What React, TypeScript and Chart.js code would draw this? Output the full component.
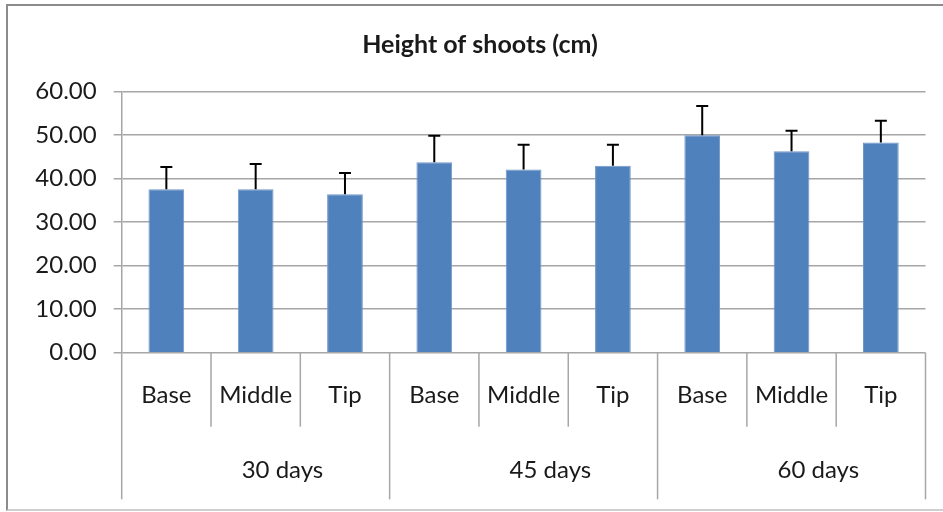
import React, { useEffect, useRef } from "react";
import { Chart, registerables } from "chart.js";

Chart.register(...registerables);

const TITLE = "Height of shoots (cm)";
const positions = ["Base", "Middle", "Tip", "Base", "Middle", "Tip", "Base", "Middle", "Tip"];
const groups = ["30 days", "45 days", "60 days"];
const heights = [37.6, 37.6, 36.4, 43.8, 42.1, 43.0, 50.0, 46.3, 48.3];
const errors = [5.1, 5.8, 4.9, 6.1, 5.7, 4.8, 6.7, 4.7, 5.0];
const yMin = 0;
const yMax = 60;
const yStep = 10;

const FONT = "Lato, 'DejaVu Sans', sans-serif";
const TEXT = "#1a1a1a";
const LINE = "#a6a6a6";

export default function App() {
  const ref = useRef<HTMLCanvasElement>(null);

  useEffect(() => {
    if (!ref.current) return;
    const decor = {
      id: "decor",
      afterDatasetsDraw(chart: any) {
        const ctx = chart.ctx;
        const y = chart.scales.y;
        const meta = chart.getDatasetMeta(0);
        ctx.save();
        ctx.strokeStyle = "#000";
        ctx.lineWidth = 2;
        meta.data.forEach((el: any, i: number) => {
          const top = y.getPixelForValue(heights[i] + errors[i]);
          ctx.beginPath();
          ctx.moveTo(el.x, el.y);
          ctx.lineTo(el.x, top);
          ctx.moveTo(el.x - 6, top);
          ctx.lineTo(el.x + 6, top);
          ctx.stroke();
        });
        ctx.restore();
      },
      afterDraw(chart: any) {
        const ctx = chart.ctx;
        const x = chart.scales.x;
        const area = chart.chartArea;
        const w = x.getPixelForValue(1) - x.getPixelForValue(0);
        const base = area.bottom;
        ctx.save();
        // title
        ctx.fillStyle = TEXT;
        ctx.font = `bold 25px ${FONT}`;
        ctx.textAlign = "center";
        ctx.textBaseline = "middle";
        ctx.fillText(TITLE, chart.width / 2, 39);
        // separators
        ctx.strokeStyle = LINE;
        ctx.lineWidth = 1.5;
        for (let k = 0; k <= positions.length; k++) {
          const px = x.getPixelForValue(0) - w / 2 + k * w;
          const len = k % 3 === 0 ? 146.6 : 74;
          ctx.beginPath();
          ctx.moveTo(px, base);
          ctx.lineTo(px, base + len);
          ctx.stroke();
        }
        // inner labels
        ctx.font = `24px ${FONT}`;
        positions.forEach((lab, i) => {
          ctx.fillText(lab, x.getPixelForValue(i), base + 42.3);
        });
        groups.forEach((g, gi) => {
          const cx = x.getPixelForValue(gi * 3 + 1.3);
          ctx.fillText(g, cx, base + 117.3);
        });
        ctx.restore();
      },
    };

    const chart = new Chart(ref.current, {
      type: "bar",
      data: {
        labels: positions,
        datasets: [
          {
            data: heights,
            backgroundColor: "#4f81bd",
            borderColor: "#7096c8",
            borderWidth: 1,
            barPercentage: 0.4,
            categoryPercentage: 1,
          },
        ],
      },
      options: {
        responsive: false,
        animation: false,
        devicePixelRatio: 1,
        layout: { padding: { top: 85.7, right: 26.5, left: 0, bottom: 0 } },
        plugins: {
          legend: { display: false },
          title: { display: false },
          tooltip: { enabled: false },
        },
        scales: {
          x: {
            grid: { display: false },
            border: { display: false },
            ticks: { display: false },
            afterFit: (s: any) => {
              s.height = 156.3;
            },
          },
          y: {
            min: yMin,
            max: yMax,
            ticks: {
              stepSize: yStep,
              callback: (v: any) => Number(v).toFixed(2),
              font: { family: FONT, size: 24 },
              color: TEXT,
              padding: 17,
            },
            grid: { color: LINE, lineWidth: 1.5, tickLength: 8, drawTicks: true },
            border: { color: LINE, width: 1.5 },
            afterFit: (s: any) => {
              s.width = 113.7;
            },
          },
        },
      },
      plugins: [decor],
    } as any);
    return () => chart.destroy();
  }, []);

  return (
    <div
      style={{
        position: "fixed",
        left: 0,
        top: 0,
        width: 943,
        height: 512,
        overflow: "hidden",
        background: "#fff",
      }}
    >
      <div
        style={{
          position: "absolute",
          left: 6,
          top: 4,
          width: 960,
          height: 507,
          borderLeft: "2px solid #8c8c8c",
          borderTop: "2px solid #8c8c8c",
          borderBottom: "2px solid #cfcfcf",
          boxSizing: "border-box",
        }}
      />
      <canvas
        ref={ref}
        width={944}
        height={503}
        style={{ position: "absolute", left: 8, top: 6 }}
      />
    </div>
  );
}
